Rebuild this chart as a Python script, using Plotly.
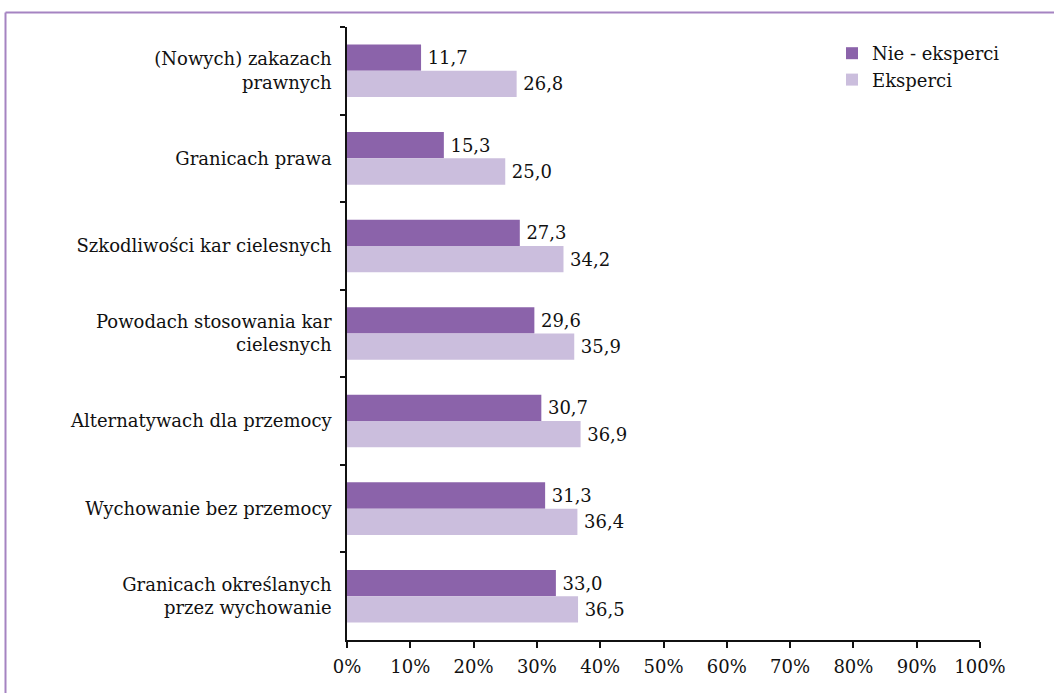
import plotly.graph_objects as go

categories = [
    "(Nowych) zakazach<br>prawnych",
    "Granicach prawa",
    "Szkodliwości kar cielesnych",
    "Powodach stosowania kar<br>cielesnych",
    "Alternatywach dla przemocy",
    "Wychowanie bez przemocy",
    "Granicach określanych<br>przez wychowanie",
]
nie_eksperci = [11.7, 15.3, 27.3, 29.6, 30.7, 31.3, 33.0]
eksperci = [26.8, 25.0, 34.2, 35.9, 36.9, 36.4, 36.5]
x_ticks = [0, 10, 20, 30, 40, 50, 60, 70, 80, 90, 100]
x_tick_labels = ["0%", "10%", "20%", "30%", "40%", "50%", "60%", "70%", "80%", "90%", "100%"]

FONT = "DejaVu Serif"
FS = 18
DARK = "#8B63AA"
LIGHT = "#CBBEDD"

fig = go.Figure()
fig.add_trace(go.Bar(
    y=categories, x=nie_eksperci, orientation="h", name="Nie - eksperci",
    marker=dict(color=DARK, line=dict(width=0)),
    texttemplate="\u2009%{x:.1f}", textposition="outside", cliponaxis=False,
    textfont=dict(family=FONT, size=FS, color="#111111"),
))
fig.add_trace(go.Bar(
    y=categories, x=eksperci, orientation="h", name="Eksperci",
    marker=dict(color=LIGHT, line=dict(width=0)),
    texttemplate="\u2009%{x:.1f}", textposition="outside", cliponaxis=False,
    textfont=dict(family=FONT, size=FS, color="#111111"),
))

L, R, T, B = 347, 74, 27, 53
W, H = 1054, 693
pw, ph = W - L - R, H - T - B

def px(xp):
    return (xp - L) / pw

def py(yp):
    return 1 - (yp - T) / ph

fig.update_layout(
    width=W, height=H,
    margin=dict(l=L, r=R, t=T, b=B, autoexpand=False),
    paper_bgcolor="white", plot_bgcolor="white",
    separators=", ",
    barmode="group", bargap=0.4, bargroupgap=0,
    font=dict(family=FONT, size=FS, color="#111111"),
    showlegend=True,
    legend=dict(x=px(832), y=py(35), xanchor="left", yanchor="top",
                bgcolor="rgba(0,0,0,0)", font=dict(family=FONT, size=FS),
                itemwidth=30, tracegroupgap=0),
    xaxis=dict(range=[0, 100], tickvals=x_ticks, ticktext=x_tick_labels,
               showgrid=False, zeroline=False, showline=True,
               linecolor="#111111", linewidth=1.5, ticks="outside",
               ticklen=6, tickcolor="#111111", tickwidth=1.5,
               tickfont=dict(family=FONT, size=FS), ticklabelstandoff=4),
    yaxis=dict(autorange="reversed", showgrid=False, zeroline=False,
               showline=True, linecolor="#111111", linewidth=1.5,
               ticks="outside", ticklen=5, tickson="boundaries",
               tickcolor="#111111", tickwidth=1.5,
               tickfont=dict(family=FONT, size=FS), ticklabelstandoff=10),
    shapes=[
        dict(type="line", xref="paper", yref="paper",
             x0=px(5.5), x1=px(5.5), y0=py(12.5), y1=py(720),
             line=dict(color="#A584C2", width=2)),
        dict(type="line", xref="paper", yref="paper",
             x0=px(5.5), x1=px(1080), y0=py(12.5), y1=py(12.5),
             line=dict(color="#A584C2", width=2)),
    ],
)

fig.write_html("out.html", config={"displayModeBar": False},
               post_script="document.body.style.margin='0';")
